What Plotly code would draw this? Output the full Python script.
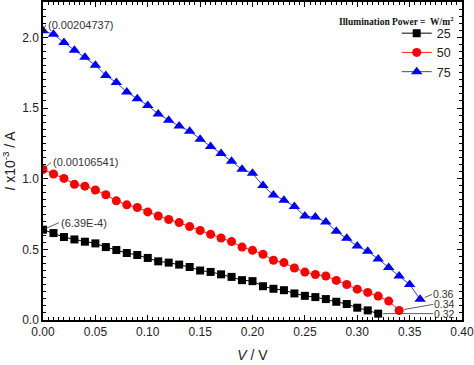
import plotly.graph_objects as go

v_25 = [round(0.01 * i, 2) for i in range(33)]
v_50 = [round(0.01 * i, 2) for i in range(35)]
v_75 = [round(0.01 * i, 2) for i in range(37)]

i_25 = [0.639, 0.615, 0.587, 0.570, 0.554, 0.542, 0.516, 0.495, 0.474, 0.460,
        0.439, 0.415, 0.406, 0.392, 0.375, 0.350, 0.340, 0.323, 0.305, 0.282,
        0.275, 0.239, 0.221, 0.211, 0.188, 0.171, 0.162, 0.148, 0.129, 0.113,
        0.087, 0.068, 0.045]
i_50 = [1.065, 1.033, 1.002, 0.960, 0.947, 0.920, 0.886, 0.843, 0.815, 0.796,
        0.765, 0.736, 0.711, 0.689, 0.661, 0.633, 0.606, 0.580, 0.555, 0.516,
        0.493, 0.465, 0.423, 0.406, 0.368, 0.339, 0.322, 0.311, 0.280, 0.251,
        0.218, 0.195, 0.169, 0.134, 0.068]
i_75 = [2.047, 2.022, 1.963, 1.909, 1.859, 1.803, 1.730, 1.680, 1.613, 1.565,
        1.518, 1.458, 1.414, 1.372, 1.336, 1.279, 1.228, 1.178, 1.124, 1.066,
        1.038, 0.951, 0.885, 0.848, 0.803, 0.735, 0.728, 0.694, 0.628, 0.578,
        0.523, 0.486, 0.432, 0.371, 0.312, 0.251, 0.146]

series_names = ["25", "50", "75"]
legend_title = "Illumination Power =  W/m<sup>2</sup>"
start_labels = ["(6.39E-4)", "(0.00106541)", "(0.00204737)"]
end_labels = ["0.32", "0.34", "0.36"]

x_ticks = [0.0, 0.05, 0.10, 0.15, 0.20, 0.25, 0.30, 0.35, 0.40]
x_ticktext = ["0.00", "0.05", "0.10", "0.15", "0.20", "0.25", "0.30", "0.35", "0.40"]
y_ticks = [0.0, 0.5, 1.0, 1.5, 2.0]
y_ticktext = ["0.0", "0.5", "1.0", "1.5", "2.0"]

fig = go.Figure()
styles = [
    dict(color="#000000", line="#000000", symbol="square", size=8),
    dict(color="#ff0000", line="#ff2020", symbol="circle", size=9),
    dict(color="#0000ff", line="#3a3aff", symbol="triangle-up", size=10),
]
data = [(v_25, i_25), (v_50, i_50), (v_75, i_75)]
for (vx, iy), name, st in zip(data, series_names, styles):
    fig.add_trace(go.Scatter(
        x=vx, y=iy, name=name, mode="lines+markers",
        line=dict(color=st["line"], width=1),
        marker=dict(symbol=st["symbol"], size=st["size"], color=st["color"],
                    line=dict(width=0)),
    ))

ann_font = dict(family="Arial, Liberation Sans, sans-serif", size=11, color="#333333")
end_font = dict(family="Arial, Liberation Sans, sans-serif", size=10.5, color="#333333")
starts = [(v_25[0], i_25[0], 16, -7), (v_50[0], i_50[0], 8, -7), (v_75[0], i_75[0], 3, -6)]
for (sx, sy, ax, ay), txt in zip(starts, start_labels):
    fig.add_annotation(x=sx, y=sy, text=txt, showarrow=True, arrowhead=0,
                       arrowwidth=0.8, arrowcolor="#333333", ax=ax, ay=ay,
                       xanchor="left", yanchor="middle", font=ann_font, standoff=2)
ends = [(v_25[-1], i_25[-1], 55, 0), (v_50[-1], i_50[-1], 34, -6), (v_75[-1], i_75[-1], 12, -5)]
for (ex, ey, ax, ay), txt in zip(ends, end_labels):
    fig.add_annotation(x=ex, y=ey, text=txt, showarrow=True, arrowhead=0,
                       arrowwidth=0.8, arrowcolor="#333333", ax=ax, ay=ay,
                       xanchor="left", yanchor="middle", font=end_font, standoff=5,
                       borderpad=0)

fig.add_annotation(x=0.985, y=0.94, xref="paper", yref="paper", text="<b>" + legend_title + "</b>",
                   showarrow=False, xanchor="right", yanchor="middle",
                   font=dict(family="Liberation Serif, Times New Roman, serif", size=9.5, color="#111111"))

tick_font = dict(family="Arial, Liberation Sans, sans-serif", size=12, color="#222222")
fig.update_xaxes(range=[0, 0.40], tickvals=x_ticks, ticktext=x_ticktext,
                 ticks="inside", ticklen=5, tickwidth=1, tickcolor="#000",
                 minor=dict(dtick=0.005, ticks="inside", ticklen=3, tickcolor="#000"),
                 showline=True, linecolor="#000", linewidth=1.5, mirror="ticks",
                 showgrid=False, zeroline=False, tickfont=tick_font, automargin=False,
                 ticklabeloverflow="allow",
                 title=dict(text="<i>V</i> / V", font=dict(family="Arial, Liberation Sans, sans-serif", size=14, color="#222"), standoff=12))
fig.update_yaxes(range=[0, 2.25], tickvals=y_ticks, ticktext=y_ticktext,
                 ticks="inside", ticklen=5, tickwidth=1, tickcolor="#000",
                 minor=dict(dtick=0.05, ticks="inside", ticklen=3, tickcolor="#000"),
                 showline=True, linecolor="#000", linewidth=1.5, mirror="ticks",
                 showgrid=False, zeroline=False, tickfont=tick_font, automargin=False,
                 title=dict(text="<i>I</i> x10<sup>-3</sup> / A", font=dict(family="Arial, Liberation Sans, sans-serif", size=14, color="#222"), standoff=6))

fig.update_layout(
    width=474, height=365,
    margin=dict(l=43, r=12, t=2, b=45, autoexpand=False),
    paper_bgcolor="white", plot_bgcolor="white",
    showlegend=True,
    legend=dict(x=0.985, y=0.948, xanchor="right", yanchor="top",
                bgcolor="rgba(0,0,0,0)", borderwidth=0,
                font=dict(family="Arial, Liberation Sans, sans-serif", size=12.5, color="#222"),
                tracegroupgap=0, itemwidth=30),
)

fig.write_html("out.html", config={"displayModeBar": False},
               post_script="document.body.style.margin='0';document.body.style.padding='0';document.body.style.overflow='hidden';")
